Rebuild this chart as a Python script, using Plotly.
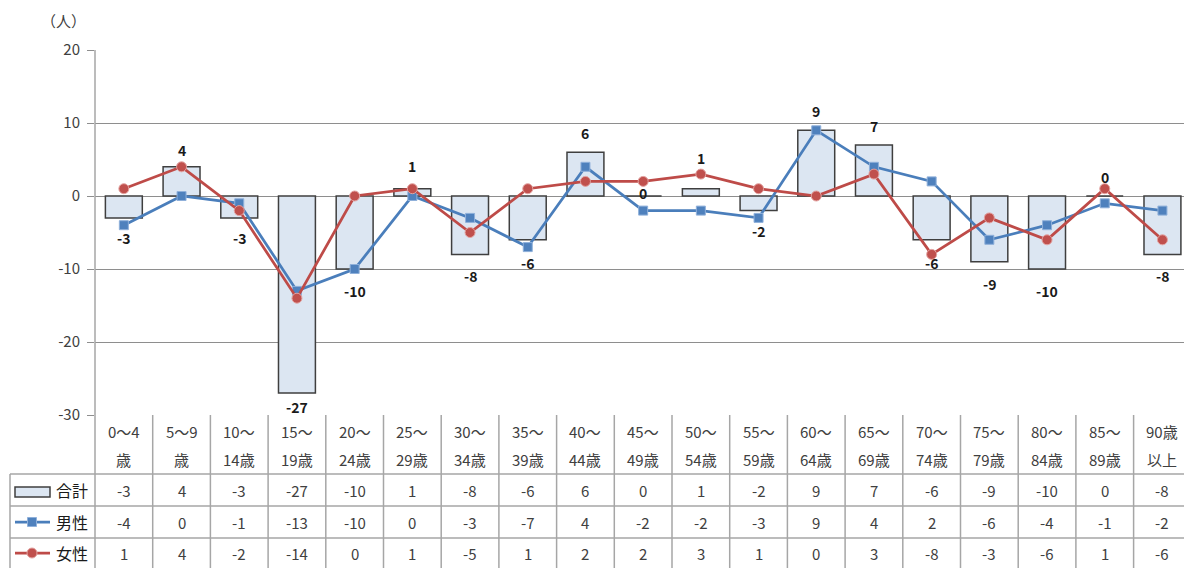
import plotly.graph_objects as go

# Age groups (two-line headers for the data table)
age_top = ["0～4", "5～9", "10～", "15～", "20～", "25～", "30～", "35～", "40～", "45～",
           "50～", "55～", "60～", "65～", "70～", "75～", "80～", "85～", "90歳"]
age_bottom = ["歳", "歳", "14歳", "19歳", "24歳", "29歳", "34歳", "39歳", "44歳", "49歳",
              "54歳", "59歳", "64歳", "69歳", "74歳", "79歳", "84歳", "89歳", "以上"]
categories = [a + b for a, b in zip(age_top, age_bottom)]

total = [-3, 4, -3, -27, -10, 1, -8, -6, 6, 0, 1, -2, 9, 7, -6, -9, -10, 0, -8]
male = [-4, 0, -1, -13, -10, 0, -3, -7, 4, -2, -2, -3, 9, 4, 2, -6, -4, -1, -2]
female = [1, 4, -2, -14, 0, 1, -5, 1, 2, 2, 3, 1, 0, 3, -8, -3, -6, 1, -6]

series_names = ["合計", "男性", "女性"]
y_ticks = [20, 10, 0, -10, -20, -30]

# vertical pixel shift of each bar's value label from the bar end (style only)
label_shift = [-20, 17, -20, -14, -22, 23, -22, -23, 19, 3,
               31, -20, 19, 19, -23, -22, -22, 19, -22]

FONT = "Noto Sans CJK JP"
W, H = 1184, 568
L, R, T, B = 95, 1184, 50, 415          # plot area in pixels
COL = 57.7                               # width of one category column
n = len(categories)
x_lo = -0.5
x_hi = x_lo + (R - L) / COL

BAR_FILL = "#DCE6F2"
BAR_EDGE = "#3F3F3F"
BLUE = "#4A7EBB"
RED = "#BE4B48"
GRID = "#8E8E8E"
TABLE = "#A6A6A6"
TEXT = "#404040"


def px(xp):
    return (xp - L) / (R - L)


def py(yp):
    return (B - yp) / (B - T)


idx = list(range(n))

fig = go.Figure()
fig.add_trace(go.Bar(
    x=idx, y=total, name=series_names[0], width=0.64,
    marker=dict(color=BAR_FILL, line=dict(color=BAR_EDGE, width=1.5)),
))
fig.add_trace(go.Scatter(
    x=idx, y=male, name=series_names[1], mode="lines+markers",
    line=dict(color=BLUE, width=2.75),
    marker=dict(symbol="square", size=9, color="#4F81BD", line=dict(color="#8FB0DA", width=1)),
    cliponaxis=False,
))
fig.add_trace(go.Scatter(
    x=idx, y=female, name=series_names[2], mode="lines+markers",
    line=dict(color=RED, width=2.75),
    marker=dict(symbol="circle", size=10, color="#C0504D", line=dict(color="#E3A3A1", width=1)),
    cliponaxis=False,
))

shapes = []
line_style = dict(color=TABLE, width=1.5)

# y-axis line continued down through the table
shapes.append(dict(type="line", xref="paper", yref="paper", x0=0, x1=0,
                   y0=py(T), y1=py(H + 2), line=dict(color=TABLE, width=1.5)))
# table left border (row-label column)
shapes.append(dict(type="line", xref="paper", yref="paper", x0=px(10), x1=px(10),
                   y0=py(474), y1=py(H + 2), line=line_style))
# column separators
for k in range(1, n):
    xk = px(L + k * COL)
    shapes.append(dict(type="line", xref="paper", yref="paper", x0=xk, x1=xk,
                       y0=py(B), y1=py(H + 2), line=line_style))
# row separators
for yr in (474, 506, 538):
    shapes.append(dict(type="line", xref="paper", yref="paper", x0=px(10), x1=px(W + 2),
                       y0=py(yr), y1=py(yr), line=line_style))

# legend keys in the row-label column
shapes.append(dict(type="rect", xref="paper", yref="paper", x0=px(15), x1=px(50),
                   y0=py(497), y1=py(487), fillcolor=BAR_FILL,
                   line=dict(color=BAR_EDGE, width=1.5)))
shapes.append(dict(type="line", xref="paper", yref="paper", x0=px(15), x1=px(50),
                   y0=py(522), y1=py(522), line=dict(color=BLUE, width=2.75)))
shapes.append(dict(type="rect", xref="paper", yref="paper", x0=px(27.5), x1=px(36.5),
                   y0=py(526.5), y1=py(517.5), fillcolor="#4F81BD",
                   line=dict(color="#8FB0DA", width=1)))
shapes.append(dict(type="line", xref="paper", yref="paper", x0=px(15), x1=px(50),
                   y0=py(553), y1=py(553), line=dict(color=RED, width=2.75)))
shapes.append(dict(type="circle", xref="paper", yref="paper", x0=px(27), x1=px(37),
                   y0=py(558), y1=py(548), fillcolor="#C0504D",
                   line=dict(color="#E3A3A1", width=1)))


def label(text, x, y, size=15, color=TEXT, xref="paper", yref="paper", bold=False, yshift=0):
    return dict(text=f"<b>{text}</b>" if bold else text, xref=xref, yref=yref, x=x, y=y,
                xanchor="center", yanchor="middle", showarrow=False, yshift=yshift,
                font=dict(family=FONT, size=size, color=color))


annotations = []
# unit label
annotations.append(label("（人）", px(63), py(21)))
# value labels on the bars
for i in idx:
    annotations.append(label(str(total[i]), i, total[i], xref="x", yref="y", size=14,
                             bold=True, color="#1a1a1a", yshift=label_shift[i]))
# header rows
for i in idx:
    annotations.append(label(age_top[i], i, py(432), xref="x"))
    annotations.append(label(age_bottom[i], i, py(459), xref="x"))
# value rows
for row_y, name, vals in zip((490, 522, 553), series_names, (total, male, female)):
    annotations.append(label(name, px(72), py(row_y), size=16, color="#1a1a1a"))
    for i in idx:
        annotations.append(label(str(vals[i]), i, py(row_y), xref="x"))

fig.update_layout(
    width=W, height=H,
    margin=dict(l=L, r=W - R, t=T, b=H - B, pad=0),
    paper_bgcolor="white", plot_bgcolor="white",
    showlegend=False,
    shapes=shapes,
    annotations=annotations,
    xaxis=dict(range=[x_lo, x_hi], showticklabels=False, showgrid=False,
               zeroline=False, showline=False, ticks=""),
    yaxis=dict(range=[-30, 20], tickvals=y_ticks, ticktext=[str(v) for v in y_ticks],
               showgrid=True, gridcolor=GRID, gridwidth=1, zeroline=False,
               showline=False, ticks="outside", ticklen=7, tickcolor=GRID,
               tickfont=dict(family=FONT, size=15, color=TEXT), ticklabelstandoff=4),
)

fig.write_html("out.html")
